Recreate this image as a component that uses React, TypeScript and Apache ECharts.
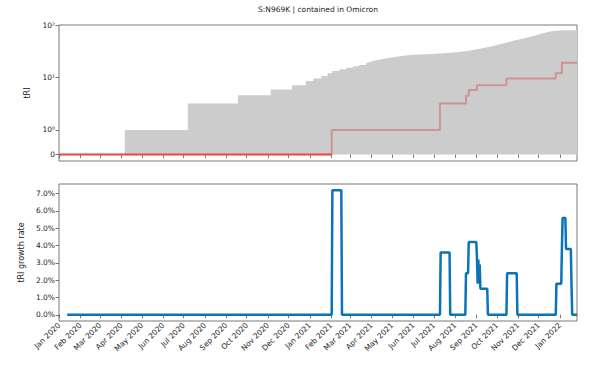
import React, { useEffect, useRef } from 'react';
import * as echarts from 'echarts';

// ---------- data ----------
const monthTicks = [
  '2020-01-01', '2020-02-01', '2020-03-01', '2020-04-01', '2020-05-01', '2020-06-01',
  '2020-07-01', '2020-08-01', '2020-09-01', '2020-10-01', '2020-11-01', '2020-12-01',
  '2021-01-01', '2021-02-01', '2021-03-01', '2021-04-01', '2021-05-01', '2021-06-01',
  '2021-07-01', '2021-08-01', '2021-09-01', '2021-10-01', '2021-11-01', '2021-12-01',
  '2022-01-01',
];
const monthNames = ['Jan', 'Feb', 'Mar', 'Apr', 'May', 'Jun', 'Jul', 'Aug', 'Sep', 'Oct', 'Nov', 'Dec'];

// grey envelope (stepped part)
const grayStepDates = [
  '2020-01-01', '2020-04-06', '2020-07-07', '2020-09-18', '2020-11-05', '2020-12-06',
  '2020-12-26', '2021-01-06', '2021-01-18', '2021-01-27', '2021-02-03', '2021-02-13',
  '2021-02-23', '2021-03-05', '2021-03-14', '2021-03-24',
];
const grayStepValues = [0, 1, 3.2, 4.6, 5.9, 7.1, 8.6, 9.6, 10.7, 12.0, 13.3, 14.3, 15.4, 16.3, 17.3, 18.6];

// grey envelope (smooth part)
const graySmoothDates = [
  '2021-03-24', '2021-04-02', '2021-04-17', '2021-05-01', '2021-05-15', '2021-06-01',
  '2021-06-20', '2021-07-10', '2021-07-25', '2021-08-10', '2021-08-25', '2021-09-10',
  '2021-09-25', '2021-10-10', '2021-10-25', '2021-11-10', '2021-11-25', '2021-12-10',
  '2021-12-20', '2021-12-30', '2022-01-10', '2022-01-26',
];
const graySmoothValues = [
  18.6, 20.5, 22.5, 24.0, 25.8, 27.0, 27.8, 28.6, 29.5, 30.8, 33.0, 36.0,
  40.0, 44.5, 50.0, 56.0, 62.5, 71.0, 76.0, 78.5, 79.5, 79.5,
];

// tRI of S:N969K
const redDates = [
  '2020-01-01', '2021-02-02', '2021-07-10', '2021-08-17', '2021-08-21', '2021-09-02',
  '2021-10-15', '2021-12-26', '2022-01-04', '2022-01-26',
];
const redValues = [0, 1, 3.2, 4.5, 5.8, 7.1, 9.6, 12, 19, 19];

// tRI growth rate (%)
const rateDates = [
  '2020-01-13', '2021-02-02', '2021-02-03', '2021-02-16', '2021-02-17', '2021-07-10',
  '2021-07-11', '2021-07-24', '2021-07-25', '2021-08-16', '2021-08-17', '2021-08-20',
  '2021-08-21', '2021-09-01', '2021-09-02', '2021-09-03', '2021-09-04', '2021-09-05',
  '2021-09-06', '2021-09-07', '2021-09-17', '2021-09-18', '2021-10-15', '2021-10-16',
  '2021-10-30', '2021-10-31', '2021-12-26', '2021-12-27', '2022-01-03', '2022-01-04',
  '2022-01-05', '2022-01-09', '2022-01-10', '2022-01-17', '2022-01-18', '2022-01-19',
  '2022-01-26',
];
const rateValues = [
  0, 0, 7.2, 7.2, 0, 0,
  3.6, 3.6, 0, 0, 2.4, 2.4,
  4.2, 4.2, 3.3, 1.8, 3.2, 1.9,
  2.9, 1.5, 1.5, 0, 0, 2.4,
  2.4, 0, 0, 1.8, 1.8, 3.9,
  5.6, 5.6, 3.8, 3.8, 1.7, 0,
  0,
];

const topTickValues = [0, 1, 10, 100];
const topTickLabels = ['0', '10⁰', '10¹', '10²'];
const rateTicks = [0, 1, 2, 3, 4, 5, 6, 7];

const xStart = '2020-01-01';
const xEnd = '2022-01-26';

// ---------- helpers ----------
const LIN = 0.467; // size of linear region (0..1) relative to one decade
const symlog = (v: number) => (v <= 1 ? v * LIN : LIN + Math.log10(v));
const ts = (s: string) => Date.parse(s);
const FONT = 'DejaVu Sans';

export default function App() {
  const ref = useRef<HTMLDivElement>(null);

  useEffect(() => {
    if (!ref.current) return;
    const chart = echarts.init(ref.current, undefined, { renderer: 'svg' });

    const tickTs = monthTicks.map(ts);
    const monthFmt = (v: number) => {
      const d = new Date(v);
      return `${monthNames[d.getUTCMonth()]} ${d.getUTCFullYear()}`;
    };
    const topTickT = topTickValues.map(symlog);

    // zero-level stretch of the red line (up to its first rise)
    const firstRise = redValues.findIndex((v) => v !== 0);
    const redZeroData = redDates
      .slice(0, firstRise + 1)
      .map((d) => [ts(d), symlog(0)]);

    const axisColor = '#555';
    const textColor = '#222';

    const xAxisBase = (gridIndex: number, showLabels: boolean) => ({
      type: 'value',
      gridIndex,
      min: ts(xStart),
      max: ts(xEnd),
      splitLine: { show: false },
      axisLine: { show: false },
      axisTick: {
        show: true,
        customValues: tickTs,
        length: 3.5,
        lineStyle: { color: axisColor, width: 0.8 },
      },
      axisLabel: {
        show: showLabels,
        customValues: tickTs,
        formatter: monthFmt,
        rotate: 45,
        fontSize: 7.5,
        fontFamily: FONT,
        color: textColor,
        margin: 3,
      },
    });

    const option: any = {
      animation: false,
      backgroundColor: '#ffffff',
      graphic: [
        {
          type: 'text',
          x: 318,
          y: 9,
          style: {
            text: 'S:N969K | contained in Omicron',
            textAlign: 'center',
            textVerticalAlign: 'middle',
            fontSize: 7.5,
            fontFamily: FONT,
            fill: textColor,
          },
        },
      ],
      grid: [
        { left: 59, top: 25, width: 518, height: 136, show: true, borderColor: axisColor, borderWidth: 0.8, backgroundColor: 'transparent' },
        { left: 59, top: 184, width: 518, height: 137, show: true, borderColor: axisColor, borderWidth: 0.8, backgroundColor: 'transparent' },
      ],
      xAxis: [xAxisBase(0, false), xAxisBase(1, true)],
      yAxis: [
        {
          type: 'value',
          gridIndex: 0,
          min: symlog(0) - 0.124,
          max: symlog(100),
          splitLine: { show: false },
          axisLine: { show: false },
          name: 'tRI',
          nameLocation: 'middle',
          nameGap: 22,
          nameTextStyle: { fontSize: 8, fontFamily: FONT, color: textColor },
          axisTick: {
            show: true,
            customValues: topTickT,
            length: 3.5,
            lineStyle: { color: axisColor, width: 0.8 },
          },
          axisLabel: {
            customValues: topTickT,
            fontSize: 7.5,
            fontFamily: FONT,
            color: textColor,
            margin: 4,
            formatter: (v: number) => {
              let best = 0;
              topTickT.forEach((t, i) => {
                if (Math.abs(t - v) < Math.abs(topTickT[best] - v)) best = i;
              });
              return topTickLabels[best];
            },
          },
        },
        {
          type: 'value',
          gridIndex: 1,
          min: -0.36,
          max: 7.56,
          splitLine: { show: false },
          axisLine: { show: false },
          name: 'tRI growth rate',
          nameLocation: 'middle',
          nameGap: 30,
          nameTextStyle: { fontSize: 8, fontFamily: FONT, color: textColor },
          axisTick: {
            show: true,
            customValues: rateTicks,
            length: 3.5,
            lineStyle: { color: axisColor, width: 0.8 },
          },
          axisLabel: {
            customValues: rateTicks,
            fontSize: 7.5,
            fontFamily: FONT,
            color: textColor,
            margin: 4,
            formatter: (v: number) => `${v.toFixed(1)}%`,
          },
        },
      ],
      series: [
        {
          type: 'line',
          xAxisIndex: 0,
          yAxisIndex: 0,
          step: 'end',
          symbol: 'none',
          z: 1,
          lineStyle: { width: 0 },
          areaStyle: { color: '#cccccc', opacity: 1 },
          itemStyle: { color: '#cccccc' },
          data: grayStepDates.map((d, i) => [ts(d), symlog(grayStepValues[i])]),
        },
        {
          type: 'line',
          xAxisIndex: 0,
          yAxisIndex: 0,
          symbol: 'none',
          z: 1,
          lineStyle: { width: 0 },
          areaStyle: { color: '#cccccc', opacity: 1 },
          itemStyle: { color: '#cccccc' },
          data: graySmoothDates.map((d, i) => [ts(d), symlog(graySmoothValues[i])]),
        },
        {
          type: 'line',
          xAxisIndex: 0,
          yAxisIndex: 0,
          step: 'end',
          symbol: 'none',
          z: 3,
          lineStyle: { width: 2, color: 'rgba(214,39,40,0.35)' },
          itemStyle: { color: 'rgba(214,39,40,0.35)' },
          data: redDates.map((d, i) => [ts(d), symlog(redValues[i])]),
        },
        {
          type: 'line',
          xAxisIndex: 0,
          yAxisIndex: 0,
          step: 'end',
          symbol: 'none',
          z: 4,
          lineStyle: { width: 2, color: '#e4564b' },
          itemStyle: { color: '#e4564b' },
          data: redZeroData,
        },
        {
          type: 'line',
          xAxisIndex: 1,
          yAxisIndex: 1,
          symbol: 'none',
          z: 3,
          lineStyle: { width: 2.5, color: '#0a74b9' },
          itemStyle: { color: '#0a74b9' },
          data: rateDates.map((d, i) => [ts(d), rateValues[i]]),
        },
      ],
    };

    chart.setOption(option);
    return () => chart.dispose();
  }, []);

  return (
    <div
      ref={ref}
      style={{ position: 'fixed', left: 0, top: 0, width: 599, height: 379, background: '#fff' }}
    />
  );
}
